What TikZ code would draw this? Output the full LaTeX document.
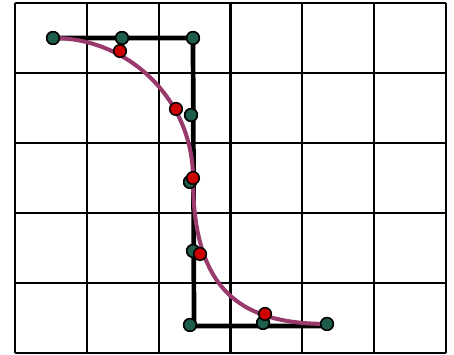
\documentclass[tikz,border=0pt]{standalone}
\usepackage{xcolor}
\usepackage{tikz}
\usetikzlibrary{positioning}

\definecolor{dotgreen}{HTML}{1E5C4C}
\definecolor{dotred}{HTML}{CC0000}
\definecolor{curvemag}{HTML}{9A3A6C}

\begin{document}
\begin{tikzpicture}[x=1.5cm,y=1.462cm,
		gridline/.style={line width=1.3pt,black},
		polyline/.style={line width=2.8pt,black},
		curveline/.style={line width=2.4pt,curvemag},
		gdot/.style={circle,draw,line width=0.9pt,fill=dotgreen,inner sep=0pt,minimum size=7.5pt},
		rdot/.style={circle,draw,line width=0.9pt,fill=dotred,inner sep=0pt,minimum size=7.5pt}]
			
			\useasboundingbox (-0.209,-0.029) rectangle (6.114,5.043);
			\draw[gridline,step=1] (0,0) grid (6,5);
			
			\coordinate (corner) at (2.493,0.386);
			\coordinate (end) at (4.345,0.386);
			
			\node[gdot] (g1) at (0.529,4.5) {};
			\node[gdot] (g2) at (1.49,4.5) {};
			\node[gdot] (g3) at (2.479,4.5) {};
			\node[gdot] (g4) at (2.451,3.4) {};
			\node[gdot] (g5) at (2.437,2.443) {};
			\node[gdot] (g6) at (2.479,1.457) {};
			\node[gdot] (g7) at (2.437,0.4) {};
			\node[gdot] (g8) at (3.454,0.429) {};
			\node[gdot] (g9) at (4.345,0.414) {};
			
			\draw[polyline] (g1.center) -- (g3.center) -- (corner) -- (end);
			\draw[curveline,line cap=round] (g1.center) .. controls (1.602,4.5) and (2.479,3.6) .. (2.479,2.5)
				.. controls (2.479,0.9) and (3.134,0.414) .. (g9.center);
			
			% dots on top
			\foreach \n in {g1,g2,g3,g4,g5,g6,g7,g8,g9}
				\node[gdot] at (\n) {};
			
			\node[rdot] (r1) at (1.462,4.314) {};
			\node[rdot] (r2) at (2.242,3.486) {};
			\node[rdot] (r3) at (2.479,2.5) {};
			\node[rdot] (r4) at (2.577,1.414) {};
			\node[rdot] (r5) at (3.482,0.557) {};
			
		\end{tikzpicture}
\end{document}
